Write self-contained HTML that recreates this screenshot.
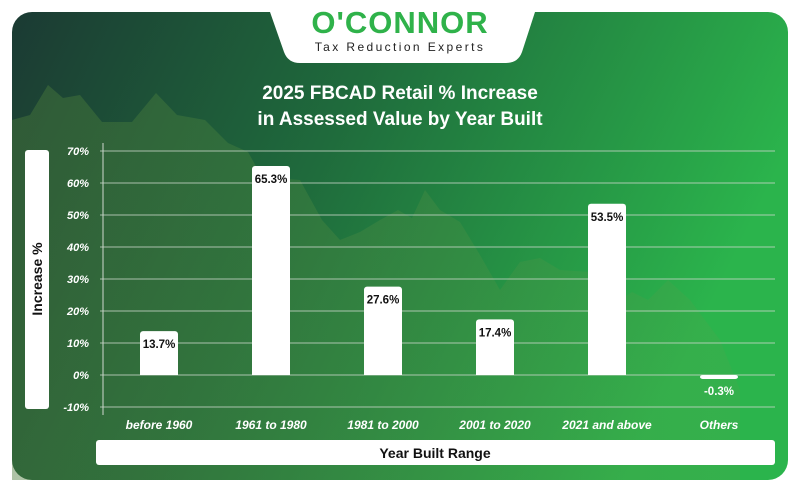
<!DOCTYPE html>
<html><head><meta charset="utf-8"><style>
body{margin:0;width:800px;height:492px;background:#fff;overflow:hidden;font-family:"Liberation Sans",sans-serif}
svg{display:block}
</style></head><body>
<svg width="800" height="492" viewBox="0 0 800 492">
<defs>
<linearGradient id="bg" x1="0" y1="0" x2="1" y2="0.3">
<stop offset="0" stop-color="#1b3a33"/><stop offset="0.45" stop-color="#1f6b3c"/><stop offset="1" stop-color="#2bb44c"/>
</linearGradient>
<linearGradient id="mt" x1="0" y1="0" x2="1" y2="0">
<stop offset="0" stop-color="#4a7a3a" stop-opacity="0.45"/><stop offset="1" stop-color="#5aa04a" stop-opacity="0.2"/>
</linearGradient>
</defs>
<rect x="12" y="12" width="776" height="468" rx="20" fill="url(#bg)"/>
<path d="M12 120 L30 115 L48 85 L63 98 L80 95 L102 122 L132 122 L156 93 L177 115 L205 120 L228 143 L248 152 L262 177 L300 180 L322 220 L340 240 L360 232 L380 220 L398 210 L412 218 L425 190 L440 210 L460 222 L480 255 L500 290 L520 262 L540 258 L560 270 L590 272 L612 305 L632 292 L648 300 L668 280 L690 300 L720 340 L740 390 L740 480 L12 480 Z" fill="url(#mt)"/>
<path d="M270 12 L535 12 L522 52 Q518 63 506 63 L300 63 Q288 63 284 52 Z" fill="#fff"/>
<text x="400" y="33" text-anchor="middle" font-size="31" font-weight="bold" letter-spacing="1" fill="#2fb24a">O'CONNOR</text>
<text x="400" y="51" text-anchor="middle" font-size="12" letter-spacing="2.4" fill="#222">Tax Reduction Experts</text>
<text x="400" y="99" text-anchor="middle" font-size="19" font-weight="bold" fill="#fff">2025 FBCAD Retail % Increase</text>
<text x="400" y="125" text-anchor="middle" font-size="19" font-weight="bold" fill="#fff">in Assessed Value by Year Built</text>
<rect x="25" y="150" width="24" height="259" rx="3" fill="#fff"/>
<text transform="translate(42,279) rotate(-90)" text-anchor="middle" font-size="14" font-weight="bold" fill="#111">Increase %</text>
<line x1="103" y1="143" x2="103" y2="415" stroke="#cfd8cf" stroke-width="1"/>
<g id="grid"></g><g id="bars"></g>
<rect x="96" y="440" width="679" height="25" rx="3" fill="#fff"/>
<text x="435" y="458" text-anchor="middle" font-size="14" font-weight="bold" fill="#111">Year Built Range</text>
</svg>
<script>
const categories=["before 1960","1961 to 1980","1981 to 2000","2001 to 2020","2021 and above","Others"];
const values=[13.7,65.3,27.6,17.4,53.5,-0.3];
const ticks=[70,60,50,40,30,20,10,0,-10];
const NS="http://www.w3.org/2000/svg";
const y=v=>375-v*3.2;
const x=i=>159+i*112;
function mk(t,a,p,txt){const e=document.createElementNS(NS,t);for(const k in a)e.setAttribute(k,a[k]);if(txt!==undefined)e.textContent=txt;p.appendChild(e);return e;}
const g=document.getElementById('grid'),b=document.getElementById('bars');
ticks.forEach(t=>{
 const l=mk('line',{x1:100,x2:775,y1:y(t),y2:y(t),stroke:'#c9d6c9','stroke-width':1,'stroke-opacity':0.8},g);
 
 
 const tx=mk('text',{x:89,y:y(t)+4,'text-anchor':'end','font-size':11,'font-weight':'bold','font-style':'italic',fill:'#fff'},g,t+'%');
 
 
});
values.forEach((v,i)=>{
 const cx=x(i),w=38,top=Math.min(y(v),375),h=Math.max(Math.abs(y(v)-375),4);
 const r=mk('rect',{x:cx-w/2,y:v<0?375:top,width:w,height:h,rx:3,fill:'#fff'},b);
 
 
 if(v>=0){mk('rect',{x:cx-w/2,y:375-Math.min(h,3),width:w,height:Math.min(h,3),fill:'#fff'},b);}
 const t=mk('text',{x:cx,y:v>=0?top+17:375+h+16,'text-anchor':'middle','font-size':11.5,'font-weight':'bold',fill:v>=0?'#111':'#fff'},b,v.toFixed(1)+'%');
 
 
 const c=mk('text',{x:cx,y:429,'text-anchor':'middle','font-size':12,'font-weight':'bold','font-style':'italic',fill:'#fff'},b,categories[i]);
 
 
});
</script>
</body></html>
